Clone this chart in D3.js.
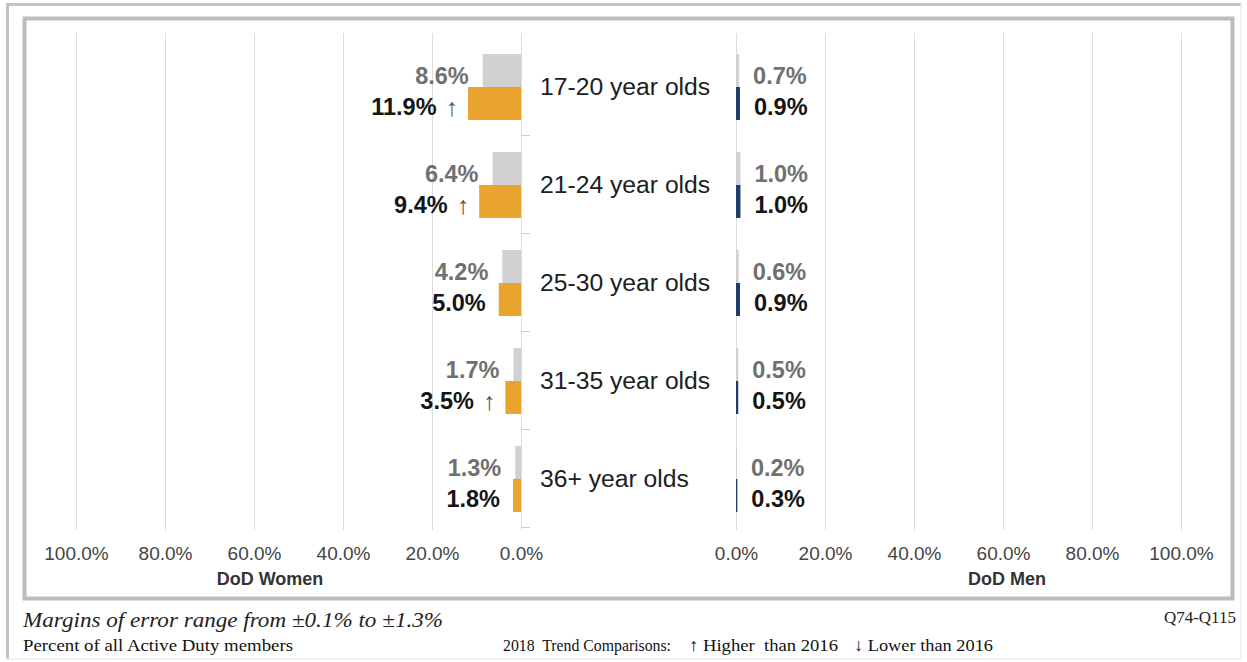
<!DOCTYPE html>
<html>
<head>
<meta charset="utf-8">
<script src="https://cdn.jsdelivr.net/npm/d3@7"></script>
<style>
  html, body { margin: 0; padding: 0; background: #ffffff; }
  svg { display: block; }
</style>
</head>
<body>
<svg id="chart" width="1247" height="662"></svg>
<script>
// ---- data ----
const categories = ["17-20 year olds", "21-24 year olds", "25-30 year olds", "31-35 year olds", "36+ year olds"];
const series = ["2016", "2018"];
const women2016 = [8.6, 6.4, 4.2, 1.7, 1.3];
const women2018 = [11.9, 9.4, 5.0, 3.5, 1.8];
const womenTrend = ["up", "up", "", "up", ""];
const men2016 = [0.7, 1.0, 0.6, 0.5, 0.2];
const men2018 = [0.9, 1.0, 0.9, 0.5, 0.3];
const menTrend = ["", "", "", "", ""];
const tickValues = [0, 20, 40, 60, 80, 100];
const axisTitles = ["DoD Women", "DoD Men"];
const noteMargins = "Margins of error range from \u00b10.1% to \u00b11.3%";
const notePercent = "Percent of all Active Duty members";
const noteTrend = ["2018  Trend Comparisons:", "\u2191 Higher  than 2016", "\u2193 Lower than 2016"];
const noteQuestion = "Q74-Q115";

// ---- setup ----
const svg = d3.select("#chart");
const SANS = "'Liberation Sans', Arial, sans-serif";
const SERIF = "'Liberation Serif', 'Times New Roman', serif";
const C = { gray: "#d1d1d3", orange: "#e9a42e", navy: "#1f3c6a", grid: "#dcdcdc", frame: "#bdbdbd" };

const xW = d3.scaleLinear().domain([0, 100]).range([521, 76]);
const xM = d3.scaleLinear().domain([0, 100]).range([736, 1181]);
const y = d3.scaleBand().domain(categories).range([38, 528]).paddingInner(0.327).paddingOuter(0.1635);
const ySub = d3.scaleBand().domain(series).range([0, y.bandwidth()]);
const step = y.step();

// frames
svg.append("line").attr("x1", 6).attr("x2", 1241).attr("y1", 4.5).attr("y2", 4.5).attr("stroke", "#c4c4c4").attr("stroke-width", 3);
svg.append("line").attr("x1", 7.5).attr("x2", 7.5).attr("y1", 3).attr("y2", 659).attr("stroke", "#c4c4c4").attr("stroke-width", 3);
svg.append("line").attr("x1", 1241).attr("x2", 1241).attr("y1", 3).attr("y2", 659).attr("stroke", "#e6e6e6").attr("stroke-width", 1);
svg.append("line").attr("x1", 6).attr("x2", 1241).attr("y1", 659).attr("y2", 659).attr("stroke", "#e6e6e6").attr("stroke-width", 1);
svg.append("rect").attr("x", 24.5).attr("y", 18.5).attr("width", 1208).attr("height", 580)
  .attr("fill", "none").attr("stroke", C.frame).attr("stroke-width", 4);

// gridlines
const gridG = svg.append("g");
[xW, xM].forEach(sc => {
  gridG.selectAll(null).data(tickValues).join("line")
    .attr("x1", d => Math.round(sc(d)) + 0.5).attr("x2", d => Math.round(sc(d)) + 0.5)
    .attr("y1", 33).attr("y2", 530)
    .attr("stroke", C.grid).attr("stroke-width", 1);
});
// small category separator ticks on women's zero line
const sepY = categories.map((c, i) => y(c) - y.paddingOuter() * step + step * (i + 1) - step * i);
gridG.selectAll(null).data(sepY).join("line")
  .attr("x1", xW(0)).attr("x2", xW(0) + 9)
  .attr("y1", (d, i) => Math.round(38 + step * (i + 1)) - 0.5)
  .attr("y2", (d, i) => Math.round(38 + step * (i + 1)) - 0.5)
  .attr("stroke", "#cfcfcf").attr("stroke-width", 1);

// axes
const fmt = d => d3.format(".1f")(d) + "%";
[xW, xM].forEach(sc => {
  const ax = svg.append("g").attr("transform", "translate(0,535)")
    .call(d3.axisBottom(sc).tickValues(tickValues).tickFormat(fmt).tickSize(0).tickPadding(12));
  ax.select(".domain").remove();
  ax.selectAll("text").attr("font-family", SANS).attr("font-size", 19).attr("fill", "#444");
});
svg.append("text").attr("x", 270).attr("y", 585).attr("text-anchor", "middle")
  .attr("font-family", SANS).attr("font-weight", "bold").attr("font-size", 18).attr("fill", "#333")
  .text(axisTitles[0]);
svg.append("text").attr("x", 1007).attr("y", 585).attr("text-anchor", "middle")
  .attr("font-family", SANS).attr("font-weight", "bold").attr("font-size", 18).attr("fill", "#333")
  .text(axisTitles[1]);

// rows
const rows = categories.map((c, i) => ({
  cat: c, w16: women2016[i], w18: women2018[i], wt: womenTrend[i],
  m16: men2016[i], m18: men2018[i], mt: menTrend[i]
}));
const g = svg.append("g").selectAll("g").data(rows).join("g")
  .attr("transform", d => `translate(0,${y(d.cat)})`);

const sh = ySub.bandwidth();
// women bars
g.append("rect").attr("x", d => xW(d.w16)).attr("y", ySub("2016"))
  .attr("width", d => xW(0) - xW(d.w16)).attr("height", sh).attr("fill", C.gray);
g.append("rect").attr("x", d => xW(d.w18)).attr("y", ySub("2018"))
  .attr("width", d => xW(0) - xW(d.w18)).attr("height", sh).attr("fill", C.orange);
// men bars
g.append("rect").attr("x", xM(0)).attr("y", ySub("2016"))
  .attr("width", d => xM(d.m16) - xM(0)).attr("height", sh).attr("fill", C.gray);
g.append("rect").attr("x", xM(0)).attr("y", ySub("2018"))
  .attr("width", d => xM(d.m18) - xM(0)).attr("height", sh).attr("fill", C.navy);

const arrow = t => t === "up" ? "\u2191" : (t === "down" ? "\u2193" : "");

// women labels
g.append("text").attr("x", d => xW(d.w16) - 14).attr("y", ySub("2016") + sh / 2 + 5)
  .attr("dominant-baseline", "central").attr("text-anchor", "end")
  .attr("font-family", SANS).attr("font-weight", "bold").attr("font-size", 23.5).attr("fill", "#707070")
  .text(d => d.w16.toFixed(1) + "%");
const wl = g.append("text").attr("x", d => xW(d.w18) - (d.wt ? 10 : 13)).attr("y", ySub("2018") + sh / 2 + 4)
  .attr("dominant-baseline", "central").attr("text-anchor", "end")
  .attr("font-family", SANS).attr("font-size", 23.5).attr("fill", "#151515");
wl.append("tspan").attr("font-weight", "bold").text(d => d.w18.toFixed(1) + "%");
wl.append("tspan").attr("font-weight", "normal").attr("fill", "#555").attr("font-size", 25)
  .attr("dx", d => d.wt ? 9 : 0).text(d => arrow(d.wt));

// men labels
g.append("text").attr("x", d => xM(d.m16) + 14).attr("y", ySub("2016") + sh / 2 + 5)
  .attr("dominant-baseline", "central")
  .attr("font-family", SANS).attr("font-weight", "bold").attr("font-size", 23.5).attr("fill", "#707070")
  .text(d => d.m16.toFixed(1) + "%");
const ml = g.append("text").attr("x", d => xM(d.m18) + 14).attr("y", ySub("2018") + sh / 2 + 4)
  .attr("dominant-baseline", "central")
  .attr("font-family", SANS).attr("font-size", 23.5).attr("fill", "#151515");
ml.append("tspan").attr("font-weight", "bold").text(d => d.m18.toFixed(1) + "%");
ml.append("tspan").attr("font-weight", "normal").attr("fill", "#555").attr("font-size", 25)
  .attr("dx", d => d.mt ? 9 : 0).text(d => arrow(d.mt));

// category labels
g.append("text").attr("x", 540).attr("y", y.bandwidth() / 2)
  .attr("dominant-baseline", "central")
  .attr("font-family", SANS).attr("font-size", 24.7).attr("fill", "#202020")
  .text(d => d.cat);

// footer notes
svg.append("text").attr("x", 23).attr("y", 627)
  .attr("font-family", SERIF).attr("font-style", "italic").attr("font-size", 21).attr("fill", "#222")
  .attr("textLength", 420).attr("lengthAdjust", "spacingAndGlyphs").text(noteMargins);
svg.append("text").attr("x", 23).attr("y", 651)
  .attr("font-family", SERIF).attr("font-size", 17).attr("fill", "#111")
  .attr("textLength", 270).attr("lengthAdjust", "spacingAndGlyphs").text(notePercent);
svg.append("text").attr("x", 1236).attr("y", 623).attr("text-anchor", "end")
  .attr("font-family", SERIF).attr("font-size", 17).attr("fill", "#222").text(noteQuestion);
const trendX = [503, 689, 854];
const trendW = [168, 149, 139];
noteTrend.forEach((t, i) => {
  svg.append("text").attr("x", trendX[i]).attr("y", 651)
    .attr("font-family", SERIF).attr("font-size", 17.5).attr("fill", "#111")
    .attr("textLength", trendW[i]).attr("lengthAdjust", "spacingAndGlyphs")
    .style("white-space", "pre").text(t);
});
</script>
</body>
</html>
